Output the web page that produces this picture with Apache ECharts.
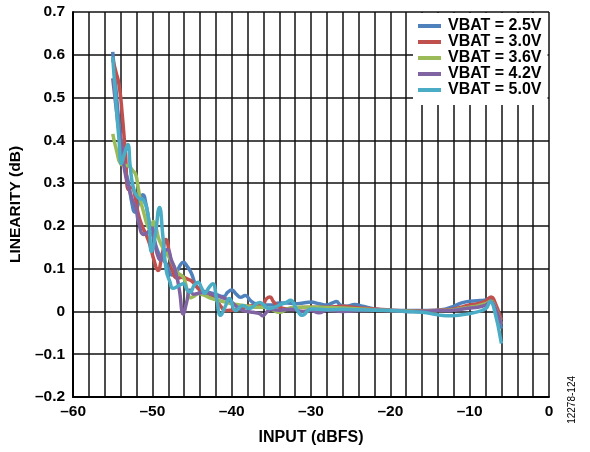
<!DOCTYPE html>
<html>
<head>
<meta charset="utf-8">
<script src="https://cdn.jsdelivr.net/npm/echarts@6/dist/echarts.min.js"></script>
<style>
html,body{margin:0;padding:0;background:#fff;}
#chart{width:590px;height:452px;}
</style>
</head>
<body>
<div id="chart"></div>
<script>
// ---- data ----
var seriesNames = ['VBAT = 2.5V', 'VBAT = 3.0V', 'VBAT = 3.6V', 'VBAT = 4.2V', 'VBAT = 5.0V'];

var vbat25 = [[-55,0.607],[-54.6,0.52],[-54.2,0.44],[-53.8,0.38],[-53.4,0.33],[-53,0.30],[-52.6,0.255],[-52.2,0.232],[-51.7,0.255],[-51.2,0.273],[-50.8,0.25],[-50.3,0.2],[-49.8,0.17],[-49.3,0.14],[-48.8,0.125],[-48.2,0.11],[-47.5,0.085],[-47,0.09],[-46.5,0.108],[-46.1,0.115],[-45.6,0.105],[-45.1,0.09],[-44.6,0.065],[-44,0.05],[-43,0.045],[-42,0.04],[-41,0.035],[-40.5,0.045],[-40,0.05],[-39.4,0.04],[-38.9,0.033],[-38.3,0.037],[-37.6,0.025],[-37,0.018],[-36,0.015],[-35,0.015],[-34,0.02],[-33,0.02],[-32,0.018],[-31,0.02],[-30,0.022],[-29,0.018],[-28,0.015],[-27.3,0.02],[-26.8,0.023],[-26.3,0.015],[-25.5,0.012],[-24.5,0.016],[-23.5,0.012],[-22,0.006],[-20,0.003],[-18,0.002],[-16,0.002],[-14,0.003],[-13,0.006],[-12,0.012],[-11,0.02],[-10,0.024],[-9,0.025],[-8,0.027],[-7.4,0.03],[-7,0.026],[-6,-0.04]];

var vbat30 = [[-55,0.59],[-54.6,0.56],[-54.2,0.53],[-53.8,0.46],[-53.4,0.37],[-53,0.285],[-52.6,0.29],[-52.2,0.27],[-51.8,0.23],[-51.3,0.2],[-50.8,0.18],[-50.3,0.155],[-49.8,0.12],[-49.3,0.096],[-48.8,0.13],[-48.3,0.168],[-47.8,0.13],[-47.3,0.085],[-46.8,0.078],[-46.2,0.08],[-45.5,0.075],[-45,0.07],[-44,0.05],[-43,0.04],[-42,0.028],[-41.3,0.01],[-40.8,0.002],[-40,0.003],[-39,0.005],[-38,0.012],[-37,0.014],[-36.2,0.015],[-35.6,0.03],[-35.2,0.034],[-34.7,0.022],[-34,0.01],[-33,0.006],[-32,0.008],[-30,0.01],[-28,0.01],[-26,0.012],[-24,0.008],[-22,0.006],[-20,0.003],[-18,0.001],[-16,0.001],[-14,0.003],[-12,0.006],[-10,0.015],[-9,0.018],[-8,0.024],[-7.3,0.034],[-7,0.03],[-6,-0.02]];

var vbat36 = [[-55,0.415],[-54.5,0.375],[-54,0.345],[-53.5,0.342],[-53,0.34],[-52.5,0.33],[-52.1,0.32],[-51.8,0.29],[-51.5,0.26],[-51,0.225],[-50.6,0.2],[-50.2,0.19],[-49.9,0.21],[-49.6,0.2],[-49.2,0.17],[-48.7,0.15],[-48,0.13],[-47.4,0.11],[-46.8,0.09],[-46.1,0.08],[-45.6,0.05],[-45.2,0.032],[-44.8,0.035],[-44.2,0.042],[-43.5,0.038],[-42.5,0.03],[-41.5,0.025],[-40,0.018],[-39,0.015],[-38,0.012],[-37,0.01],[-36,0.01],[-35,0.005],[-34,-0.002],[-33,0.006],[-32,0.01],[-30,0.01],[-28,0.009],[-26,0.008],[-24,0.006],[-22,0.004],[-20,0.002],[-18,0.001],[-16,0.0],[-14,0.002],[-12,0.004],[-10,0.01],[-9,0.013],[-8,0.018],[-7.3,0.024],[-7,0.02],[-6,-0.03]];

var vbat42 = [[-55,0.545],[-54.6,0.48],[-54.2,0.42],[-53.9,0.39],[-53.5,0.33],[-53,0.29],[-52.5,0.26],[-52.1,0.243],[-51.75,0.21],[-51.1,0.18],[-50.6,0.185],[-50.1,0.195],[-49.7,0.16],[-49.4,0.135],[-49,0.12],[-48.5,0.14],[-48.1,0.145],[-47.6,0.12],[-47.1,0.096],[-46.6,0.05],[-46.1,-0.006],[-45.7,0.02],[-45.25,0.05],[-44.8,0.04],[-44.3,0.042],[-43.5,0.045],[-42.5,0.04],[-41.6,0.035],[-40.8,0.03],[-40.3,0.026],[-39.6,0.015],[-38.8,0.004],[-38,0.0],[-37.3,-0.002],[-36.5,-0.005],[-36.1,-0.01],[-35.5,0.0],[-35,0.005],[-34,0.003],[-32.5,0.005],[-31,0.0],[-30,0.002],[-29,-0.003],[-28,0.003],[-26,0.0],[-24,0.002],[-22,0.003],[-20,0.002],[-18,0.0],[-16,0.0],[-14,0.002],[-12,0.003],[-10,0.008],[-9,0.01],[-8,0.015],[-7.3,0.022],[-7,0.018],[-6,-0.03]];

var vbat50 = [[-55,0.595],[-54.6,0.49],[-54.2,0.4],[-53.9,0.346],[-53.5,0.37],[-53.1,0.39],[-52.8,0.34],[-52.4,0.29],[-51.75,0.265],[-51.1,0.26],[-50.5,0.22],[-50.1,0.14],[-49.7,0.17],[-49.1,0.243],[-48.7,0.18],[-48.25,0.096],[-47.8,0.07],[-47.4,0.054],[-46.7,0.06],[-46.1,0.065],[-45.6,0.05],[-45.25,0.045],[-44.7,0.062],[-44.25,0.068],[-43.8,0.055],[-43.4,0.042],[-42.9,0.055],[-42.4,0.065],[-41.9,0.03],[-41.4,-0.009],[-40.8,0.012],[-40.3,0.03],[-39.5,0.002],[-38.6,0.014],[-37.8,0.007],[-36.5,0.021],[-35.3,0.007],[-33.6,0.018],[-33.1,0.021],[-32.6,0.026],[-31.8,0.005],[-31.1,-0.009],[-30,0.006],[-28,0.004],[-26,0.005],[-24,0.004],[-22,0.003],[-20,0.002],[-18,0.0],[-16,-0.002],[-14,-0.008],[-13,-0.01],[-11,-0.008],[-10,-0.005],[-8.5,0.002],[-7.9,0.008],[-7.4,0.022],[-7,0.012],[-6,-0.075]];

var seriesData = [vbat25, vbat30, vbat36, vbat42, vbat50];
var seriesColors = ['#4f81bd', '#c0504d', '#9bbb59', '#8064a2', '#4bacc6'];

var xMin = -60, xMax = 0, xStep = 2, xLabelStep = 10;
var yMin = -0.2, yMax = 0.7, yStep = 0.1;

var FONT = '"Liberation Sans", Arial, sans-serif';
var FS = 15.5;

function dash(s) { return String(s).replace('-', '\u2013'); }

var chart = echarts.init(document.getElementById('chart'), null, {renderer: 'canvas'});

var series = seriesData.map(function (d, i) {
  return {
    name: seriesNames[i],
    type: 'line',
    data: d,
    smooth: 0.5,
    showSymbol: false,
    symbol: 'none',
    lineStyle: {color: seriesColors[i], width: 3.5},
    itemStyle: {color: seriesColors[i]},
    z: 3 + i
  };
});

chart.setOption({
  animation: false,
  backgroundColor: '#fff',
  grid: {left: 69, right: 41, top: 12, bottom: 55, containLabel: false},
  legend: {
    orient: 'vertical',
    left: 413,
    top: 13,
    padding: [5, 6, 7, 5],
    itemGap: 0,
    itemWidth: 23,
    itemHeight: 4,
    icon: 'rect',
    backgroundColor: '#fff',
    data: seriesNames,
    textStyle: {fontFamily: FONT, fontWeight: 'bold', fontSize: 16, color: '#000', lineHeight: 16, padding: [0, 0, 0, 2]}
  },
  xAxis: {
    type: 'value',
    min: xMin, max: xMax, interval: xStep,
    name: 'INPUT (dBFS)',
    nameLocation: 'middle',
    nameGap: 33,
    nameTextStyle: {fontFamily: FONT, fontWeight: 'bold', fontSize: 16, color: '#000'},
    axisLine: {show: true, onZero: false, lineStyle: {color: '#000', width: 2}},
    axisTick: {show: false},
    axisLabel: {
      margin: 7,
      fontFamily: FONT, fontWeight: 'bold', fontSize: FS, color: '#000',
      formatter: function (v) {
        var r = Math.round(v);
        if (r % xLabelStep !== 0) return '';
        return dash(r);
      }
    },
    splitLine: {show: true, lineStyle: {color: '#111', width: 1.5}}
  },
  yAxis: {
    type: 'value',
    min: yMin, max: yMax, interval: yStep,
    name: 'LINEARITY (dB)',
    nameLocation: 'middle',
    nameGap: 40,
    nameTextStyle: {fontFamily: FONT, fontWeight: 'bold', fontSize: FS, color: '#000'},
    axisLine: {show: true, onZero: false, lineStyle: {color: '#000', width: 2}},
    axisTick: {show: false},
    axisLabel: {
      margin: 8,
      fontFamily: FONT, fontWeight: 'bold', fontSize: FS, color: '#000',
      formatter: function (v) {
        if (Math.abs(v) < 1e-9) return '0';
        return dash(v.toFixed(1));
      }
    },
    splitLine: {show: true, lineStyle: {color: '#111', width: 1.5}}
  },
  graphic: [{
    type: 'text',
    left: 567,
    top: 376,
    rotation: Math.PI / 2,
    originX: 0, originY: 0,
    style: {text: '12278-124', fontFamily: FONT, fontSize: 10, fill: '#000'}
  }],
  series: series
});
</script>
</body>
</html>
